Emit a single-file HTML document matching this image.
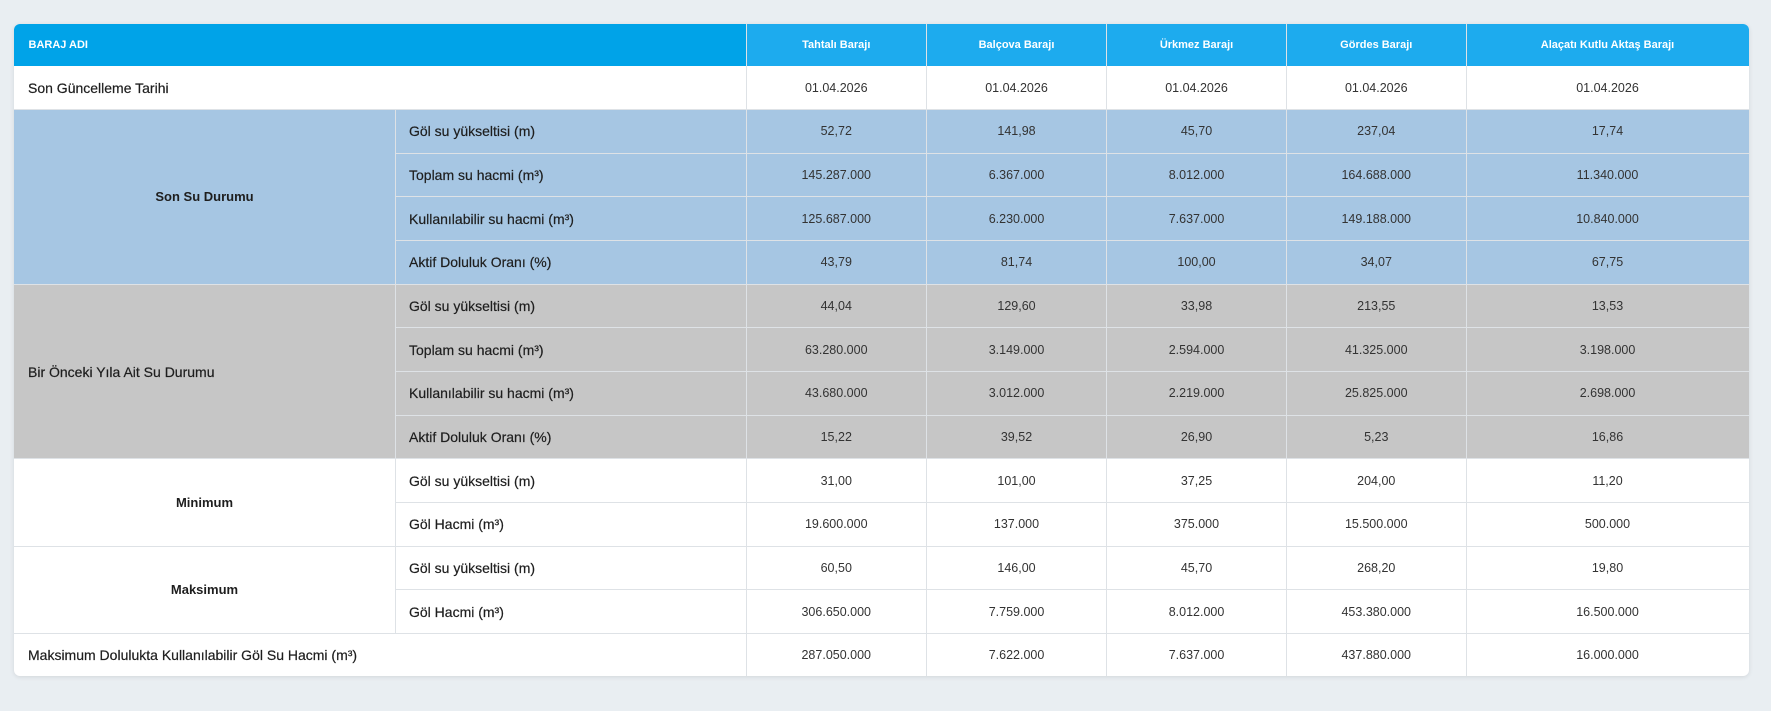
<!DOCTYPE html>
<html>
<head>
<meta charset="utf-8">
<style>
html,body{margin:0;padding:0;}
body{width:1771px;height:711px;background:#e9eef2;position:relative;overflow:hidden;font-family:"Liberation Sans","DejaVu Sans",sans-serif;}
.card{position:absolute;left:14px;top:24px;width:1735px;height:652px;background:#fff;border-radius:6px;overflow:hidden;box-shadow:0 1px 5px rgba(0,0,0,0.10);}
.b{position:absolute;}
.hl{position:absolute;height:1px;background:#dee2e6;}
.vl{position:absolute;width:1px;background:#dee2e6;}
.c{position:absolute;display:flex;align-items:center;justify-content:center;white-space:nowrap;}
.h{color:#fff;font-weight:bold;font-size:11px;top:0;height:42px;}
.v{font-size:12.5px;color:#333;}
.lab{font-size:14px;color:#1e1e1e;justify-content:flex-start;padding-left:14px;box-sizing:border-box;-webkit-text-stroke:0.2px #1e1e1e;}
.sec{font-size:13px;font-weight:bold;color:#1e1e1e;}
.k0{left:0;width:381px;}
.kL{left:381px;width:351px;}
.k1{left:732px;width:180.5px;}
.k2{left:912.5px;width:180px;}
.k3{left:1092.5px;width:180px;}
.k4{left:1272.5px;width:179.5px;}
.k5{left:1452px;width:283px;}
.r0{top:42px;height:43.65px;}
.r1{top:85.65px;height:43.65px;}
.r2{top:129.3px;height:43.65px;}
.r3{top:172.95px;height:43.65px;}
.r4{top:216.6px;height:43.65px;}
.r5{top:260.25px;height:43.65px;}
.r6{top:303.9px;height:43.65px;}
.r7{top:347.55px;height:43.65px;}
.r8{top:391.2px;height:43.65px;}
.r9{top:434.85px;height:43.65px;}
.r10{top:478.5px;height:43.65px;}
.r11{top:522.15px;height:43.65px;}
.r12{top:565.8px;height:43.65px;}
.r13{top:609.45px;height:42.55px;}
</style>
</head>
<body>
<div class="card">
  <!-- bands -->
  <div class="b" style="left:0;top:0;width:732px;height:42px;background:#00a3e8;"></div>
  <div class="b" style="left:732px;top:0;width:1003px;height:42px;background:#1dabee;"></div>
  <div class="b" style="left:0;top:85.65px;width:1735px;height:174.6px;background:#a6c6e3;"></div>
  <div class="b" style="left:0;top:260.25px;width:1735px;height:174.6px;background:#c6c6c6;"></div>

  <!-- horizontal lines -->
  <div class="hl" style="left:0;width:1735px;top:85.15px;"></div>
  <div class="hl" style="left:381px;width:1354px;top:128.8px;"></div>
  <div class="hl" style="left:381px;width:1354px;top:172.45px;"></div>
  <div class="hl" style="left:381px;width:1354px;top:216.1px;"></div>
  <div class="hl" style="left:0;width:1735px;top:259.75px;"></div>
  <div class="hl" style="left:381px;width:1354px;top:303.4px;"></div>
  <div class="hl" style="left:381px;width:1354px;top:347.05px;"></div>
  <div class="hl" style="left:381px;width:1354px;top:390.7px;"></div>
  <div class="hl" style="left:0;width:1735px;top:434.35px;"></div>
  <div class="hl" style="left:381px;width:1354px;top:478px;"></div>
  <div class="hl" style="left:0;width:1735px;top:521.65px;"></div>
  <div class="hl" style="left:381px;width:1354px;top:565.3px;"></div>
  <div class="hl" style="left:0;width:1735px;top:608.95px;"></div>

  <!-- vertical lines -->
  <div class="vl" style="left:380.5px;top:85.65px;height:523.8px;"></div>
  <div class="vl" style="left:731.5px;top:0;height:652px;"></div>
  <div class="vl" style="left:912px;top:0;height:652px;"></div>
  <div class="vl" style="left:1092px;top:0;height:652px;"></div>
  <div class="vl" style="left:1272px;top:0;height:652px;"></div>
  <div class="vl" style="left:1451.5px;top:0;height:652px;"></div>

  <!-- header -->
  <div class="c h" style="left:0;width:732px;justify-content:flex-start;padding-left:14.5px;box-sizing:border-box;">BARAJ ADI</div>
  <div class="c h k1">Tahtalı Barajı</div>
  <div class="c h k2">Balçova Barajı</div>
  <div class="c h k3">Ürkmez Barajı</div>
  <div class="c h k4">Gördes Barajı</div>
  <div class="c h k5">Alaçatı Kutlu Aktaş Barajı</div>

  <!-- row labels -->
  <div class="c lab r0" style="left:0;width:732px;">Son Güncelleme Tarihi</div>
  <div class="c sec k0" style="top:85.65px;height:174.6px;">Son Su Durumu</div>
  <div class="c lab k0" style="top:260.25px;height:174.6px;">Bir Önceki Yıla Ait Su Durumu</div>
  <div class="c sec k0" style="top:434.85px;height:87.3px;">Minimum</div>
  <div class="c sec k0" style="top:522.15px;height:87.3px;">Maksimum</div>
  <div class="c lab r13" style="left:0;width:732px;">Maksimum Dolulukta Kullanılabilir Göl Su Hacmi (m³)</div>

  <div class="c lab kL r1">Göl su yükseltisi (m)</div>
  <div class="c lab kL r2">Toplam su hacmi (m³)</div>
  <div class="c lab kL r3">Kullanılabilir su hacmi (m³)</div>
  <div class="c lab kL r4">Aktif Doluluk Oranı (%)</div>
  <div class="c lab kL r5">Göl su yükseltisi (m)</div>
  <div class="c lab kL r6">Toplam su hacmi (m³)</div>
  <div class="c lab kL r7">Kullanılabilir su hacmi (m³)</div>
  <div class="c lab kL r8">Aktif Doluluk Oranı (%)</div>
  <div class="c lab kL r9">Göl su yükseltisi (m)</div>
  <div class="c lab kL r10">Göl Hacmi (m³)</div>
  <div class="c lab kL r11">Göl su yükseltisi (m)</div>
  <div class="c lab kL r12">Göl Hacmi (m³)</div>

  <!-- Tahtalı -->
  <div class="c v k1 r0">01.04.2026</div>
  <div class="c v k1 r1">52,72</div>
  <div class="c v k1 r2">145.287.000</div>
  <div class="c v k1 r3">125.687.000</div>
  <div class="c v k1 r4">43,79</div>
  <div class="c v k1 r5">44,04</div>
  <div class="c v k1 r6">63.280.000</div>
  <div class="c v k1 r7">43.680.000</div>
  <div class="c v k1 r8">15,22</div>
  <div class="c v k1 r9">31,00</div>
  <div class="c v k1 r10">19.600.000</div>
  <div class="c v k1 r11">60,50</div>
  <div class="c v k1 r12">306.650.000</div>
  <div class="c v k1 r13">287.050.000</div>

  <!-- Balçova -->
  <div class="c v k2 r0">01.04.2026</div>
  <div class="c v k2 r1">141,98</div>
  <div class="c v k2 r2">6.367.000</div>
  <div class="c v k2 r3">6.230.000</div>
  <div class="c v k2 r4">81,74</div>
  <div class="c v k2 r5">129,60</div>
  <div class="c v k2 r6">3.149.000</div>
  <div class="c v k2 r7">3.012.000</div>
  <div class="c v k2 r8">39,52</div>
  <div class="c v k2 r9">101,00</div>
  <div class="c v k2 r10">137.000</div>
  <div class="c v k2 r11">146,00</div>
  <div class="c v k2 r12">7.759.000</div>
  <div class="c v k2 r13">7.622.000</div>

  <!-- Ürkmez -->
  <div class="c v k3 r0">01.04.2026</div>
  <div class="c v k3 r1">45,70</div>
  <div class="c v k3 r2">8.012.000</div>
  <div class="c v k3 r3">7.637.000</div>
  <div class="c v k3 r4">100,00</div>
  <div class="c v k3 r5">33,98</div>
  <div class="c v k3 r6">2.594.000</div>
  <div class="c v k3 r7">2.219.000</div>
  <div class="c v k3 r8">26,90</div>
  <div class="c v k3 r9">37,25</div>
  <div class="c v k3 r10">375.000</div>
  <div class="c v k3 r11">45,70</div>
  <div class="c v k3 r12">8.012.000</div>
  <div class="c v k3 r13">7.637.000</div>

  <!-- Gördes -->
  <div class="c v k4 r0">01.04.2026</div>
  <div class="c v k4 r1">237,04</div>
  <div class="c v k4 r2">164.688.000</div>
  <div class="c v k4 r3">149.188.000</div>
  <div class="c v k4 r4">34,07</div>
  <div class="c v k4 r5">213,55</div>
  <div class="c v k4 r6">41.325.000</div>
  <div class="c v k4 r7">25.825.000</div>
  <div class="c v k4 r8">5,23</div>
  <div class="c v k4 r9">204,00</div>
  <div class="c v k4 r10">15.500.000</div>
  <div class="c v k4 r11">268,20</div>
  <div class="c v k4 r12">453.380.000</div>
  <div class="c v k4 r13">437.880.000</div>

  <!-- Alaçatı -->
  <div class="c v k5 r0">01.04.2026</div>
  <div class="c v k5 r1">17,74</div>
  <div class="c v k5 r2">11.340.000</div>
  <div class="c v k5 r3">10.840.000</div>
  <div class="c v k5 r4">67,75</div>
  <div class="c v k5 r5">13,53</div>
  <div class="c v k5 r6">3.198.000</div>
  <div class="c v k5 r7">2.698.000</div>
  <div class="c v k5 r8">16,86</div>
  <div class="c v k5 r9">11,20</div>
  <div class="c v k5 r10">500.000</div>
  <div class="c v k5 r11">19,80</div>
  <div class="c v k5 r12">16.500.000</div>
  <div class="c v k5 r13">16.000.000</div>
</div>
</body>
</html>
